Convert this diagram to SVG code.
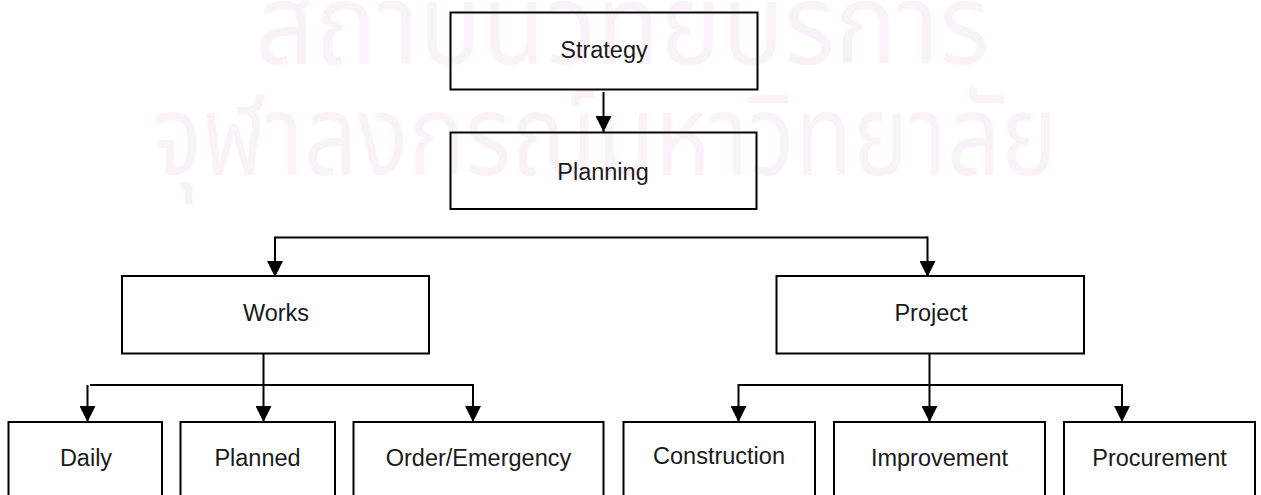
<svg xmlns="http://www.w3.org/2000/svg" width="1261" height="495" viewBox="0 0 1261 495">
  <defs>
    <marker id="arrow" viewBox="0 0 16 16" refX="16" refY="8" markerWidth="16" markerHeight="16" markerUnits="userSpaceOnUse" orient="auto">
      <path d="M0,0 L16,8 L0,16 Z" fill="#000"/>
    </marker>
    <style>
      .box { fill: none; stroke: #000; stroke-width: 2; }
      .lbl { font-family: "Liberation Sans", Arial, Helvetica, sans-serif; font-size: 23.5px; fill: #1a1a1a; text-anchor: middle; }
      .wire { fill: none; stroke: #000; stroke-width: 2; }
      .wm { font-family: "Noto Sans Thai", "Noto Sans", "DejaVu Sans", sans-serif; font-size: 112px; fill: #f9f2f9; }
    </style>
  </defs>

  <rect width="1261" height="495" fill="#fff"/>

  <!-- faint background lettering -->
  <g id="watermark">
    <text class="wm" x="255" y="64" textLength="735" lengthAdjust="spacingAndGlyphs">สถาบันวิทยบริการ</text>
    <text class="wm" x="152" y="175" textLength="905" lengthAdjust="spacingAndGlyphs">จุฬาลงกรณ์มหาวิทยาลัย</text>
  </g>

  <!-- connectors -->
  <g id="connectors">
    <line class="wire" x1="603.5" y1="92" x2="603.5" y2="132" marker-end="url(#arrow)"/>
    <line class="wire" x1="275" y1="237.5" x2="927.5" y2="237.5"/>
    <line class="wire" x1="275" y1="236.5" x2="275" y2="277" marker-end="url(#arrow)"/>
    <line class="wire" x1="927.5" y1="236.5" x2="927.5" y2="277" marker-end="url(#arrow)"/>

    <line class="wire" x1="90" y1="385" x2="474" y2="385"/>
    <line class="wire" x1="87.5" y1="385" x2="87.5" y2="422" marker-end="url(#arrow)"/>
    <line class="wire" x1="263.5" y1="354" x2="263.5" y2="422" marker-end="url(#arrow)"/>
    <line class="wire" x1="473" y1="384" x2="473" y2="422" marker-end="url(#arrow)"/>

    <line class="wire" x1="738" y1="385" x2="1123" y2="385"/>
    <line class="wire" x1="738.5" y1="384" x2="738.5" y2="422" marker-end="url(#arrow)"/>
    <line class="wire" x1="929.5" y1="354" x2="929.5" y2="422" marker-end="url(#arrow)"/>
    <line class="wire" x1="1122" y1="384" x2="1122" y2="422" marker-end="url(#arrow)"/>
  </g>

  <g id="strategy">
    <rect class="box" x="450.5" y="12.5" width="307" height="77"/>
    <text class="lbl" x="604" y="57.5">Strategy</text>
  </g>
  <g id="planning">
    <rect class="box" x="450.5" y="132.5" width="306" height="76.5"/>
    <text class="lbl" x="603" y="179.5">Planning</text>
  </g>
  <g id="works">
    <rect class="box" x="122" y="276" width="307" height="77.5"/>
    <text class="lbl" x="276" y="321">Works</text>
  </g>
  <g id="project">
    <rect class="box" x="776.5" y="276" width="307.5" height="77.5"/>
    <text class="lbl" x="931" y="321">Project</text>
  </g>

  <g id="daily">
    <rect class="box" x="8.5" y="422" width="153.5" height="80"/>
    <text class="lbl" x="86" y="466">Daily</text>
  </g>
  <g id="planned">
    <rect class="box" x="180.5" y="422" width="154.5" height="80"/>
    <text class="lbl" x="257.5" y="466">Planned</text>
  </g>
  <g id="order-emergency">
    <rect class="box" x="353.5" y="422" width="250" height="80"/>
    <text class="lbl" x="478.5" y="466">Order/Emergency</text>
  </g>
  <g id="construction">
    <rect class="box" x="623.5" y="422" width="191.5" height="80"/>
    <text class="lbl" x="719" y="464">Construction</text>
  </g>
  <g id="improvement">
    <rect class="box" x="834" y="422" width="211" height="80"/>
    <text class="lbl" x="939.5" y="466">Improvement</text>
  </g>
  <g id="procurement">
    <rect class="box" x="1064" y="422" width="191" height="80"/>
    <text class="lbl" x="1159.5" y="466">Procurement</text>
  </g>
</svg>
